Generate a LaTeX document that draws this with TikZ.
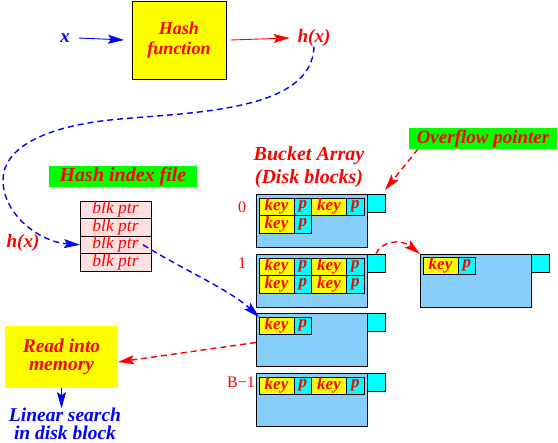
\documentclass[tikz,border=0pt]{standalone}
\usepackage{fontspec}
\setmainfont{Liberation Serif}
\usetikzlibrary{arrows.meta, positioning}

\definecolor{bucketblue}{RGB}{135,206,250}
\definecolor{blkpink}{RGB}{255,224,224}
\definecolor{boxyellow}{RGB}{255,255,0}
\definecolor{cellcyan}{RGB}{0,255,255}
\definecolor{labelgreen}{RGB}{0,255,0}

\begin{document}
\begin{tikzpicture}[
    x=1pt, y=-1pt,
    every node/.style={
        inner sep=0pt,
        outer sep=0pt,
        align=center
    },
    redlabel/.style={text=red, font=\fontsize{19}{21}\selectfont\bfseries\itshape},
    bluelabel/.style={text=blue, font=\fontsize{19}{21}\selectfont\bfseries\itshape},
    greenbox/.style={redlabel, fill=labelgreen, minimum width=148pt, minimum height=21pt},
    bucket/.style={draw, line width=0.8pt, fill=bucketblue, minimum width=111pt, minimum height=53pt, anchor=north west},
    ovfbox/.style={draw, line width=0.8pt, fill=cellcyan, minimum size=18pt, anchor=north west},
    keycell/.style={draw, line width=0.8pt, fill=boxyellow, minimum width=35pt, minimum height=17.5pt,
        text=red, font=\fontsize{17}{17}\selectfont\bfseries\itshape},
    pcell/.style={keycell, fill=cellcyan, minimum width=17.5pt},
    blkcell/.style={draw, line width=0.8pt, fill=blkpink, minimum width=71pt, minimum height=17.5pt,
        text=red, font=\fontsize{17.5}{17.5}\selectfont\itshape},
    num/.style={text=red, font=\fontsize{16}{16}\selectfont},
    arrow/.style={-{Stealth[length=16pt, width=9pt, inset=3pt]}, line width=0.9pt},
    dasharrow/.style={arrow, line width=1.4pt, dash pattern=on 6pt off 4pt}
]
\useasboundingbox (0,0) rectangle (558,443);

% ------------------------
% Hash function (top)
% ------------------------
\node[draw, line width=0.8pt, fill=boxyellow, minimum width=94pt, minimum height=78pt,
    redlabel, font=\fontsize{18}{20}\selectfont\bfseries\itshape] (hashfn) at (179,40)
{Hash\\function};

\node[bluelabel] (x) at (65,38) {x};
\node[redlabel] (hx) at (314,38) {h(x)};

% ------------------------
% Hash index file (left)
% ------------------------
\node[greenbox, font=\fontsize{20}{21}\selectfont\bfseries\itshape] (idxlabel) at (123,177) {Hash index file};

\node[blkcell, anchor=north west] (blk1) at (80,201) {blk ptr};
\node[blkcell, below=0pt of blk1] (blk2) {blk ptr};
\node[blkcell, below=0pt of blk2] (blk3) {blk ptr};
\node[blkcell, below=0pt of blk3] (blk4) {blk ptr};

\node[redlabel] (hx2) at (23,243) {h(x)};

% ------------------------
% Bucket array (right)
% ------------------------
\node[redlabel, font=\fontsize{20}{23}\selectfont\bfseries\itshape] (bucketlabel) at (309,167)
{Bucket Array\\(Disk blocks)};

\node[greenbox] (ovflabel) at (483,138.5) {Overflow pointer};

\node[bucket] (b0) at (256,194) {};
\node[ovfbox] (b0o) at (b0.north east) {};
\node[num] (n0) at (242,207) {0};
\node[keycell, below right=4pt and 3pt of b0.north west] (b0k1) {key};
\node[pcell, right=0pt of b0k1] (b0p1) {p};
\node[keycell, right=0pt of b0p1] (b0k2) {key};
\node[pcell, right=0pt of b0k2] (b0p2) {p};
\node[keycell, below=0pt of b0k1] (b0k3) {key};
\node[pcell, right=0pt of b0k3] (b0p3) {p};

\node[bucket] (b1) at (256,254) {};
\node[ovfbox] (b1o) at (b1.north east) {};
\node[num] (n1) at (242,263) {1};
\node[keycell, below right=4pt and 3pt of b1.north west] (b1k1) {key};
\node[pcell, right=0pt of b1k1] (b1p1) {p};
\node[keycell, right=0pt of b1p1] (b1k2) {key};
\node[pcell, right=0pt of b1k2] (b1p2) {p};
\node[keycell, below=0pt of b1k1] (b1k3) {key};
\node[pcell, right=0pt of b1k3] (b1p3) {p};
\node[keycell, right=0pt of b1p3] (b1k4) {key};
\node[pcell, right=0pt of b1k4] (b1p4) {p};

\node[bucket] (b2) at (256,313) {};
\node[ovfbox] (b2o) at (b2.north east) {};
\node[keycell, below right=4pt and 3pt of b2.north west] (b2k1) {key};
\node[pcell, right=0pt of b2k1] (b2p1) {p};

\node[bucket] (bB) at (256,373) {};
\node[ovfbox] (bBo) at (bB.north east) {};
\node[num] (nB) at (241,382) {B−1};
\node[keycell, below right=4pt and 3pt of bB.north west] (bBk1) {key};
\node[pcell, right=0pt of bBk1] (bBp1) {p};
\node[keycell, right=0pt of bBp1] (bBk2) {key};
\node[pcell, right=0pt of bBk2] (bBp2) {p};

% overflow block
\node[bucket] (bx) at (420,254) {};
\node[ovfbox] (bxo) at (bx.north east) {};
\node[keycell, below right=3pt and 3pt of bx.north west] (bxk1) {key};
\node[pcell, right=0pt of bxk1] (bxp1) {p};

% ------------------------
% Read into memory (bottom left)
% ------------------------
\node[fill=boxyellow, minimum width=113pt, minimum height=62pt,
    redlabel, font=\fontsize{19.5}{18.5}\selectfont\bfseries\itshape] (read) at (61.5,357)
{Read into\\memory};

\node[bluelabel, font=\fontsize{19.5}{18}\selectfont\bfseries\itshape, anchor=south] (linear) at (65,440)
{Linear search\\in disk block};

% ------------------------
% Arrows
% ------------------------
\draw[arrow, blue] ([xshift=9pt]x.east) -- ([xshift=-8pt]hashfn.west);
\draw[arrow, red] ([xshift=5pt]hashfn.east) -- ([xshift=-8pt]hx.west);

\draw[dasharrow, blue] (hx.south) .. controls (312,110) and (200,112) .. (120,119)
    .. controls (40,126) and (3,150) .. (3,180)
    .. controls (3,215) and (40,242) .. (blk3.west);
\draw[dasharrow, blue] ([xshift=-8pt]blk3.east) .. controls (180,268) and (230,290) .. (b2k1.north west);

\draw[dasharrow, red] ([xshift=9pt]ovflabel.south west) -- ([yshift=4pt]b0o.north east);
\draw[dasharrow, red] (b1o.north) .. controls (380,242) and (400,238) .. (bx.north west);
\draw[dasharrow, red] ([yshift=-3pt]b2.west) -- ([yshift=-5pt]read.east);

\draw[arrow, blue] (read.south) -- (read.south |- linear.north);

\end{tikzpicture}
\end{document}
